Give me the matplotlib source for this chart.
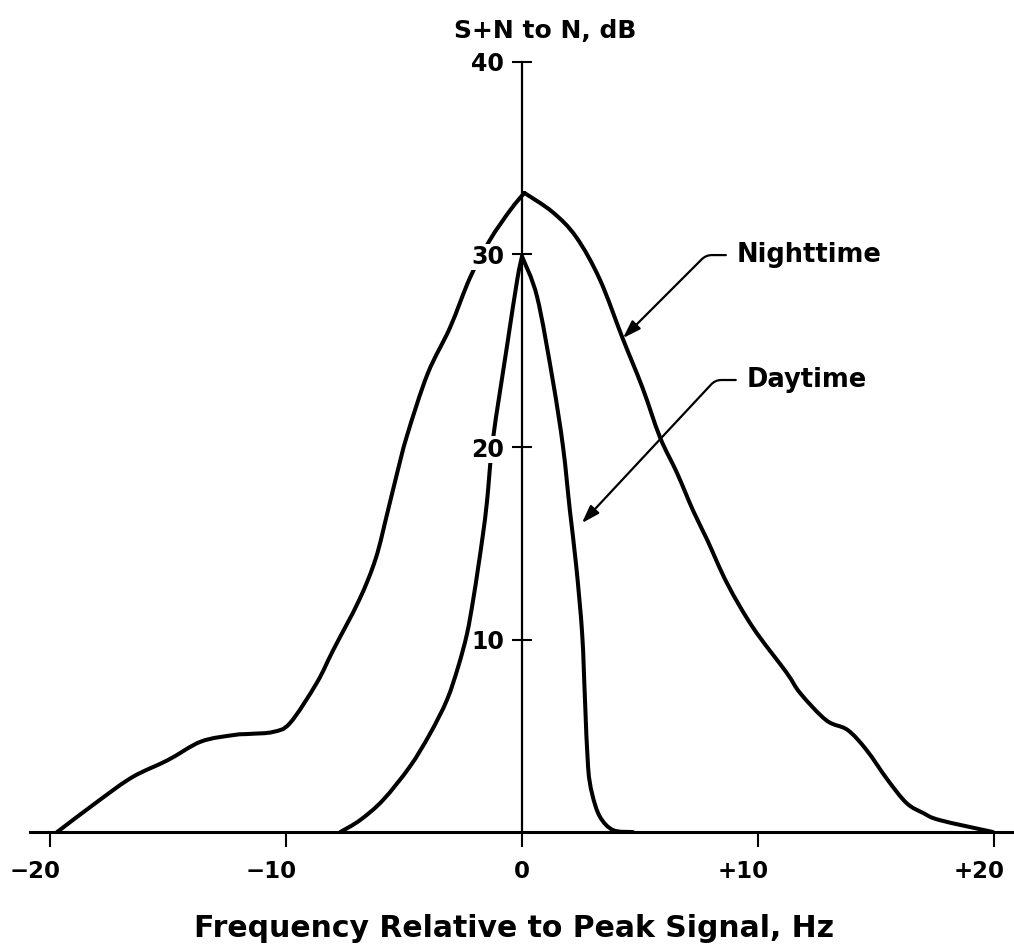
import numpy as np
import matplotlib.pyplot as plt
import matplotlib.transforms as mtransforms
from matplotlib.path import Path
from matplotlib.patches import PathPatch

# S+N to N spectrum, nighttime vs daytime
night_hz = [-19.7, -17.9, -16.5, -15.0, -13.6, -12.2, -11.5, -10.55, -9.83,
            -8.7, -8.0, -6.9, -6.2, -5.7, -5.3, -4.87, -4.0, -3.05, -2.2,
            -1.36, -0.5, 0.1, 1.3, 2.3, 3.3, 4.28, 5.1, 5.85, 6.57, 7.25, 7.84,
            8.7, 9.8, 11.2, 11.8, 12.9, 13.8, 14.6, 15.5, 16.3, 17.0, 17.7, 19.96]
night_db = [0.0, 1.66, 2.86, 3.74, 4.7, 5.04, 5.1, 5.2, 5.66,
            7.74, 9.45, 12.05, 14.2, 16.6, 18.6, 20.6, 23.8, 26.2, 28.8,
            30.75, 32.3, 33.2, 32.2, 30.9, 28.7, 25.6, 23.1, 20.5, 18.65, 16.7, 15.2,
            12.9, 10.6, 8.3, 7.2, 5.8, 5.3, 4.26, 2.7, 1.5, 0.99, 0.62, 0.0]

day_hz = [-7.7, -6.86, -5.89, -4.75, -3.9, -3.18, -2.7, -2.33, -2.07, -1.85, -1.65,
          -1.48, -1.23, -0.64, -0.2, 0.0, 0.64, 1.3, 1.74, 2.03, 2.3, 2.55, 2.67,
          2.8, 2.97, 3.3, 3.86, 4.7]
day_db = [0.0, 0.62, 1.66, 3.4, 5.1, 6.86, 8.6, 10.3, 12.05, 13.8, 15.5,
          17.2, 20.4, 25.2, 28.7, 29.9, 27.8, 23.5, 20.0, 16.7, 13.8, 10.3, 6.86,
          3.4, 2.0, 0.8, 0.1, 0.0]

x_ticks = [-20, -10, 0, 10, 20]
x_tick_labels = ['\u221220', '\u221210', '0', '+10', '+20']
y_ticks = [10, 20, 30, 40]
y_tick_labels = ['10', '20', '30', '40']


def smooth_path(xs, ys):
    """Catmull-Rom through the points, written as cubic Bezier segments."""
    p = np.column_stack([xs, ys])
    ext = np.vstack([p[0], p, p[-1]])
    verts = [p[0]]
    codes = [Path.MOVETO]
    for i in range(len(p) - 1):
        p0, p1, p2, p3 = ext[i], ext[i + 1], ext[i + 2], ext[i + 3]
        verts += [p1 + (p2 - p0) / 6, p2 - (p3 - p1) / 6, p2]
        codes += [Path.CURVE4] * 3
    return Path(verts, codes)


def draw_curve(ax, xs, ys, **kw):
    # split at the peak so the top stays a sharp point
    k = int(np.argmax(ys))
    for sx, sy in [(xs[:k + 1], ys[:k + 1]), (xs[k:], ys[k:])]:
        ax.add_patch(PathPatch(smooth_path(sx, sy), fill=False, **kw))


fig = plt.figure(figsize=(10.14, 9.51), dpi=100)
ax = fig.add_axes([0, 0, 1, 1])
ax.set_xlim(-22.12, 20.85)
ax.set_ylim(-6.18, 43.22)
ax.set_axisbelow(False)

style = dict(edgecolor='black', lw=2.9, capstyle='round', joinstyle='round',
             zorder=2)
draw_curve(ax, night_hz, night_db, **style)
draw_curve(ax, day_hz, day_db, **style)

# axes cross at the origin
for side in ['top', 'right']:
    ax.spines[side].set_visible(False)
ax.spines['left'].set_position(('data', 0))
ax.spines['bottom'].set_position(('data', 0))
ax.spines['left'].set_bounds(0, 40)
ax.spines['bottom'].set_bounds(-20.85, 20.85)
ax.spines['left'].set_linewidth(1.6)
ax.spines['bottom'].set_linewidth(2.2)

ax.set_xticks(x_ticks)
ax.set_xticklabels(x_tick_labels)
ax.set_yticks(y_ticks)
ax.set_yticklabels(y_tick_labels)
ax.tick_params(axis='y', direction='inout', length=14, width=1.5, pad=6,
               labelsize=17)
ax.tick_params(axis='x', direction='out', length=11, width=1.5, pad=9,
               labelsize=16.5)

for lbl in ax.get_yticklabels() + ax.get_xticklabels():
    lbl.set_fontweight('bold')
for lbl in ax.get_yticklabels():
    lbl.set_bbox(dict(facecolor='white', edgecolor='none', pad=1))

# signed labels: keep the digits centred under the tick
shift = mtransforms.ScaledTranslation(-0.15, 0, fig.dpi_scale_trans)
for lbl in ax.get_xticklabels():
    if lbl.get_text()[0] in '\u2212+':
        lbl.set_transform(lbl.get_transform() + shift)

ax.text(1.0, 41.6, 'S+N to N, dB', ha='center', va='center',
        fontsize=18, fontweight='bold')
ax.text(-0.34, -4.99, 'Frequency Relative to Peak Signal, Hz', ha='center',
        va='center', fontsize=21.5, fontweight='bold')

arrow = dict(arrowstyle='-|>,head_length=0.9,head_width=0.3', color='black',
             lw=1.6, relpos=(0, 0.5), shrinkA=6, shrinkB=0, mutation_scale=12,
             connectionstyle='angle,angleA=0,angleB=45,rad=6')
ax.annotate('Nighttime', xy=(4.28, 25.66), xytext=(9.11, 29.97),
            ha='left', va='center', fontsize=18.5, fontweight='bold',
            arrowprops=arrow)
arrow_day = dict(arrow, connectionstyle='angle,angleA=0,angleB=47,rad=6')
ax.annotate('Daytime', xy=(2.54, 16.05), xytext=(9.53, 23.48),
            ha='left', va='center', fontsize=18.5, fontweight='bold',
            arrowprops=arrow_day)

fig.savefig('out.png', dpi=100, facecolor='white')
